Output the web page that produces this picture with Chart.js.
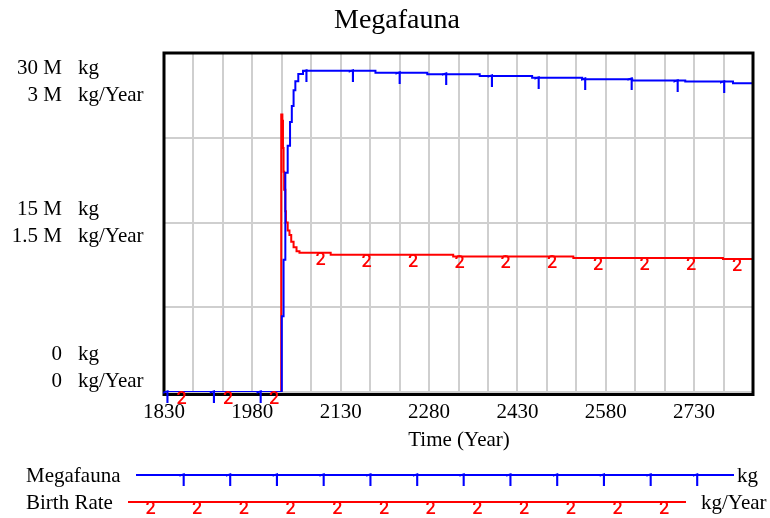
<!DOCTYPE html>
<html>
<head>
<meta charset="utf-8">
<script src="https://cdn.jsdelivr.net/npm/chart.js@4.4.1/dist/chart.umd.min.js"></script>
<style>
  html, body { margin: 0; padding: 0; background: #fff; }
  #wrap { width: 770px; height: 518px; }
</style>
</head>
<body>
<div id="wrap"><canvas id="myChart"></canvas></div>
<script>
// Megafauna run
// Megafauna stock, millions of kg
const megaYears  = [1830, 2030, 2033, 2036, 2040, 2044, 2047, 2050, 2053, 2058, 2066, 2189, 2277, 2366, 2455, 2540, 2625, 2715, 2796, 2830];
const megaValues = [0, 6.7, 11.7, 19.4, 21.8, 23.9, 25.3, 26.7, 27.5, 28.15, 28.42, 28.26, 28.13, 27.97, 27.82, 27.68, 27.56, 27.47, 27.33, 27.33];

// Birth Rate, millions of kg/Year
const birthYears  = [1830, 2029, 2031, 2032, 2033, 2034, 2036, 2037, 2040, 2043, 2046, 2050, 2055, 2060, 2113, 2321, 2525, 2779, 2830];
const birthValues = [0, 2.455, 2.40, 2.16, 1.95, 1.79, 1.60, 1.50, 1.43, 1.39, 1.33, 1.28, 1.245, 1.232, 1.215, 1.200, 1.186, 1.178, 1.178];

// where the "1" / "2" series markers sit along the lines
const megaMarkYears  = [1835, 1914, 1993, 2071, 2150, 2229, 2308, 2386, 2465, 2544, 2623, 2701, 2780];
const birthMarkYears = [1860, 1939, 2017, 2096, 2174, 2253, 2332, 2410, 2489, 2567, 2646, 2725, 2803];

// axis labels
const xTickLabels = [1830, 1980, 2130, 2280, 2430, 2580, 2730];
const yTickValues = [0, 15, 30];
const yKgLabels   = ['0', '15 M', '30 M'];
const yRateLabels = ['0', '1.5 M', '3 M'];

const BLUE = '#0000ff';
const RED = '#ff0000';
const SERIF = '"Liberation Serif", "Times New Roman", serif';
const MARK_FONT = '500 18px Roboto, "Noto Sans", sans-serif';

// value held at a given year (the run is drawn as steps)
function stepValue(xs, ys, year) {
    let v = ys[0];
    for (let i = 0; i < xs.length; i++) {
        if (xs[i] <= year) v = ys[i];
    }
    return v;
}

const vensimDecor = {
    id: 'vensimDecor',
    afterDatasetsDraw(chart) {
        const { ctx, chartArea: area, scales } = chart;
        const xs = scales.x, ys = scales.y, ys2 = scales.y2;
        ctx.save();

        // frame
        ctx.strokeStyle = '#000';
        ctx.lineWidth = 3;
        ctx.strokeRect(area.left, area.top, area.right - area.left, area.bottom - area.top + 2.5);

        // series markers
        ctx.font = MARK_FONT;
        ctx.textAlign = 'center';
        ctx.textBaseline = 'alphabetic';
        ctx.fillStyle = BLUE;
        megaMarkYears.forEach(yr => {
            const px = xs.getPixelForValue(yr);
            const py = ys.getPixelForValue(stepValue(megaYears, megaValues, yr));
            ctx.fillText('1', px, py + 11);
        });
        ctx.fillStyle = RED;
        birthMarkYears.forEach(yr => {
            const px = xs.getPixelForValue(yr);
            const py = ys2.getPixelForValue(stepValue(birthYears, birthValues, yr));
            ctx.fillText('2', px, py + 12);
        });

        // title
        ctx.fillStyle = '#000';
        ctx.font = '28px ' + SERIF;
        ctx.textAlign = 'center';
        ctx.fillText('Megafauna', 397, 28);

        // x axis title
        ctx.font = '21px ' + SERIF;
        ctx.fillText('Time (Year)', 459, 446);

        // stacked y labels (kg over kg/Year)
        ctx.textBaseline = 'middle';
        yTickValues.forEach((v, i) => {
            const py = ys.getPixelForValue(v);
            let y1 = py - 13.5, y2 = py + 13.5;
            if (y1 < area.top + 15) { const d = area.top + 15 - y1; y1 += d; y2 += d; }
            if (y2 > area.bottom - 11) { const d = y2 - (area.bottom - 11); y1 -= d; y2 -= d; }
            ctx.textAlign = 'right';
            ctx.fillText(yKgLabels[i], 62, y1);
            ctx.fillText(yRateLabels[i], 62, y2);
            ctx.textAlign = 'left';
            ctx.fillText('kg', 78, y1);
            ctx.fillText('kg/Year', 78, y2);
        });

        // legend rows
        const rows = [
            { name: 'Megafauna', unit: 'kg', color: BLUE, y: 475, x0: 136, x1: 734, ux: 737, mark: '1', m0: 183, off: 11 },
            { name: 'Birth Rate', unit: 'kg/Year', color: RED, y: 502, x0: 128, x1: 686, ux: 701, mark: '2', m0: 150.5, off: 12 }
        ];
        rows.forEach(r => {
            ctx.fillStyle = '#000';
            ctx.font = '21px ' + SERIF;
            ctx.textAlign = 'left';
            ctx.textBaseline = 'middle';
            ctx.fillText(r.name, 26, r.y + 1);
            ctx.fillText(r.unit, r.ux, r.y + 1);
            ctx.strokeStyle = r.color;
            ctx.lineWidth = 2;
            ctx.beginPath();
            ctx.moveTo(r.x0, r.y);
            ctx.lineTo(r.x1, r.y);
            ctx.stroke();
            ctx.fillStyle = r.color;
            ctx.font = MARK_FONT;
            ctx.textAlign = 'center';
            ctx.textBaseline = 'alphabetic';
            for (let k = 0; k < 12; k++) {
                ctx.fillText(r.mark, r.m0 + k * 46.7, r.y + r.off);
            }
        });

        ctx.restore();
    }
};

const gridYears = [];
for (let yr = 1830; yr <= 2830; yr += 50) gridYears.push(yr);

new Chart(document.getElementById('myChart'), {
    type: 'line',
    data: {
        datasets: [{
            label: 'Megafauna',
            data: megaYears.map((yr, i) => ({ x: yr, y: megaValues[i] })),
            borderColor: BLUE,
            borderWidth: 2,
            pointRadius: 0,
            stepped: true,
            yAxisID: 'y'
        }, {
            label: 'Birth Rate',
            data: birthYears.map((yr, i) => ({ x: yr, y: birthValues[i] })),
            borderColor: RED,
            borderWidth: 2,
            pointRadius: 0,
            stepped: true,
            yAxisID: 'y2'
        }]
    },
    options: {
        responsive: true,
        maintainAspectRatio: false,
        animation: false,
        events: [],
        layout: { padding: { left: 164, right: 17, top: 53, bottom: 0 } },
        plugins: {
            legend: { display: false },
            title: { display: false },
            tooltip: { enabled: false }
        },
        scales: {
            x: {
                type: 'linear',
                min: 1830,
                max: 2830,
                afterBuildTicks: (scale) => { scale.ticks = gridYears.map(v => ({ value: v })); },
                afterFit: (scale) => { scale.height = 126; },
                border: { display: false },
                grid: { color: '#cfcfcf', lineWidth: 2, drawTicks: false },
                ticks: {
                    autoSkip: false,
                    maxRotation: 0,
                    padding: 8,
                    color: '#000',
                    font: { family: SERIF, size: 21 },
                    callback: (v) => xTickLabels.includes(v) ? String(v) : ''
                }
            },
            y: {
                min: 0,
                max: 30,
                afterFit: (scale) => { scale.width = 0; },
                border: { display: false },
                grid: { color: '#cfcfcf', lineWidth: 2, drawTicks: false },
                ticks: { display: false, stepSize: 7.5 }
            },
            y2: {
                display: false,
                min: 0,
                max: 3
            }
        }
    },
    plugins: [vensimDecor]
});
</script>
</body>
</html>
